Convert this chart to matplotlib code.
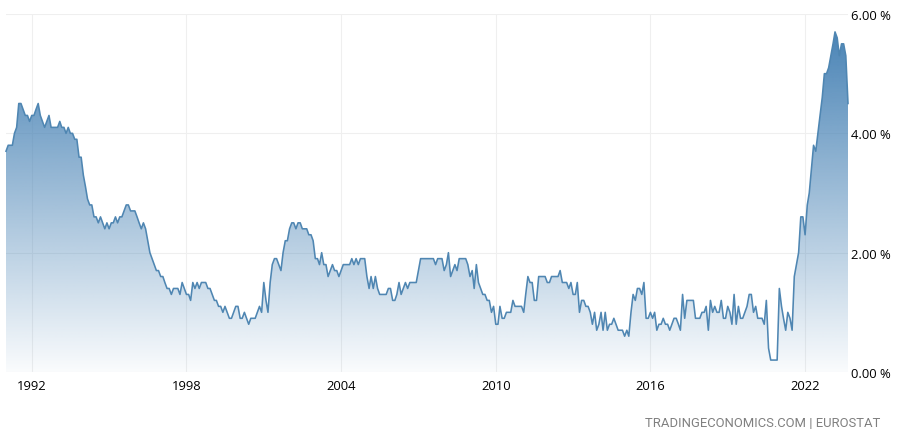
from datetime import datetime

import matplotlib
matplotlib.use("Agg")
import matplotlib.dates as mdates
import matplotlib.pyplot as plt
from matplotlib.colors import to_rgb
import numpy as np
import pandas as pd

# monthly values, one row per year, starting January 1991
rates = [
    3.7, 3.8, 3.8, 3.8, 4.0, 4.1, 4.5, 4.5, 4.4, 4.3, 4.3, 4.2,  # 1991
    4.3, 4.3, 4.4, 4.5, 4.3, 4.2, 4.1, 4.2, 4.3, 4.1, 4.1, 4.1,
    4.1, 4.2, 4.1, 4.1, 4.0, 4.1, 4.0, 4.0, 3.9, 3.9, 3.6, 3.6,
    3.3, 3.1, 2.9, 2.8, 2.8, 2.6, 2.6, 2.5, 2.6, 2.5, 2.4, 2.5,
    2.4, 2.5, 2.5, 2.6, 2.5, 2.6, 2.6, 2.7, 2.8, 2.8, 2.7, 2.7,
    2.7, 2.6, 2.5, 2.4, 2.5, 2.4, 2.2, 2.0, 1.9, 1.8, 1.7, 1.7,
    1.6, 1.6, 1.5, 1.4, 1.4, 1.3, 1.4, 1.4, 1.4, 1.3, 1.5, 1.4,
    1.3, 1.3, 1.2, 1.5, 1.4, 1.5, 1.4, 1.5, 1.5, 1.5, 1.4, 1.4,
    1.3, 1.2, 1.2, 1.1, 1.1, 1.0, 1.1, 1.0, 0.9, 0.9, 1.0, 1.1,  # 1999
    1.1, 0.9, 0.9, 1.0, 0.9, 0.8, 0.9, 0.9, 0.9, 1.0, 1.1, 1.0,
    1.5, 1.2, 1.0, 1.5, 1.8, 1.9, 1.9, 1.8, 1.7, 2.0, 2.2, 2.2,
    2.4, 2.5, 2.5, 2.4, 2.5, 2.5, 2.4, 2.4, 2.4, 2.3, 2.3, 2.2,
    1.9, 1.9, 1.8, 2.0, 1.8, 1.8, 1.6, 1.7, 1.8, 1.7, 1.7, 1.6,
    1.7, 1.8, 1.8, 1.8, 1.8, 1.9, 1.8, 1.9, 1.8, 1.9, 1.9, 1.9,
    1.6, 1.4, 1.6, 1.4, 1.6, 1.4, 1.3, 1.3, 1.3, 1.3, 1.4, 1.4,
    1.2, 1.2, 1.3, 1.5, 1.3, 1.4, 1.5, 1.4, 1.5, 1.5, 1.5, 1.5,
    1.7, 1.9, 1.9, 1.9, 1.9, 1.9, 1.9, 1.9, 1.8, 1.9, 1.9, 1.9,  # 2007
    1.7, 1.8, 2.0, 1.6, 1.7, 1.8, 1.7, 1.9, 1.9, 1.9, 1.9, 1.8,
    1.6, 1.7, 1.4, 1.8, 1.5, 1.4, 1.3, 1.3, 1.2, 1.2, 1.0, 1.1,
    0.8, 0.8, 1.1, 0.9, 0.9, 1.0, 1.0, 1.0, 1.2, 1.1, 1.1, 1.1,
    1.1, 1.0, 1.3, 1.6, 1.5, 1.5, 1.2, 1.2, 1.6, 1.6, 1.6, 1.6,
    1.5, 1.5, 1.6, 1.6, 1.6, 1.6, 1.7, 1.5, 1.5, 1.5, 1.4, 1.5,
    1.3, 1.3, 1.5, 1.0, 1.2, 1.2, 1.1, 1.1, 1.0, 0.8, 1.0, 0.7,
    0.8, 1.0, 0.7, 1.0, 0.7, 0.8, 0.8, 0.9, 0.8, 0.7, 0.7, 0.7,
    0.6, 0.7, 0.6, 1.0, 1.3, 1.2, 1.4, 1.4, 1.3, 1.5, 0.9, 0.9,  # 2015
    1.0, 0.9, 1.0, 0.7, 0.8, 0.8, 0.9, 0.8, 0.8, 0.7, 0.8, 0.9,
    0.9, 0.8, 0.7, 1.3, 0.9, 1.2, 1.2, 1.2, 1.2, 0.9, 0.9, 0.9,
    1.0, 1.0, 1.1, 0.7, 1.2, 1.0, 1.1, 1.0, 1.0, 1.2, 0.9, 0.9,
    1.1, 1.0, 0.8, 1.3, 0.8, 1.1, 0.9, 0.9, 1.0, 1.1, 1.3, 1.3,
    1.0, 1.1, 0.9, 0.9, 0.9, 0.8, 1.2, 0.4, 0.2, 0.2, 0.2, 0.2,
    1.4, 1.1, 0.9, 0.7, 1.0, 0.9, 0.7, 1.6, 1.8, 2.0, 2.6, 2.6,
    2.3, 2.8, 3.0, 3.4, 3.8, 3.7, 4.0, 4.3, 4.6, 5.0, 5.0, 5.1,
    5.3, 5.5, 5.7, 5.6, 5.3, 5.5, 5.5, 5.3, 4.5,  # 2023
]
tick_years = [1992, 1998, 2004, 2010, 2016, 2022]
y_ticks = [0, 2, 4, 6]
source = "TRADINGECONOMICS.COM | EUROSTAT"

LINE_COLOR = "#4f86b2"
FILL_COLOR = "#4a84b6"
GRID_COLOR = "#efefef"

plt.rcParams["font.family"] = ["Open Sans", "DejaVu Sans"]

dates = pd.date_range("1991-01-01", periods=len(rates), freq="MS")

fig = plt.figure(figsize=(9, 4.31), dpi=100)
ax = fig.add_axes([6 / 900, 58 / 431, 842 / 900, 358 / 431])

# area is a vertical transparency ramp clipped to the shape under the line
top = max(rates)
ramp = np.zeros((256, 2, 4))
ramp[..., :3] = to_rgb(FILL_COLOR)
ramp[..., 3] = np.linspace(1.0, 0.03, 256)[:, None]
x0, x1 = mdates.date2num(dates[0]), mdates.date2num(dates[-1])
img = ax.imshow(ramp, extent=[x0, x1, 0, top], aspect="auto", zorder=2, interpolation="bilinear")
area = ax.fill_between(dates, rates, 0, color="none", zorder=2)
img.set_clip_path(area.get_paths()[0], transform=ax.transData)
ax.set_xlim(dates[0], dates[-1])
ax.set_ylim(0, 6)

ax.plot(dates, rates, color=LINE_COLOR, lw=1.15, zorder=3, clip_on=False)

ax.set_xticks([datetime(y, 1, 1) for y in tick_years], labels=[str(y) for y in tick_years])
ax.yaxis.tick_right()
ax.set_yticks(y_ticks, labels=[f"{v:.2f} %" for v in y_ticks])
ax.tick_params(axis="both", length=0, labelsize=9.4, labelcolor="#000000")
ax.tick_params(axis="x", pad=5)
ax.tick_params(axis="y", pad=2.5)
ax.grid(True, color=GRID_COLOR, lw=0.8, zorder=1)
ax.set_axisbelow(True)
for spine in ax.spines.values():
    spine.set_visible(False)

fig.text(880 / 900, (431 - 427) / 431, source, ha="right", va="baseline", fontsize=9.4,
         family="Roboto", color="#808080")

fig.savefig("out.png", dpi=100)
plt.close(fig)
